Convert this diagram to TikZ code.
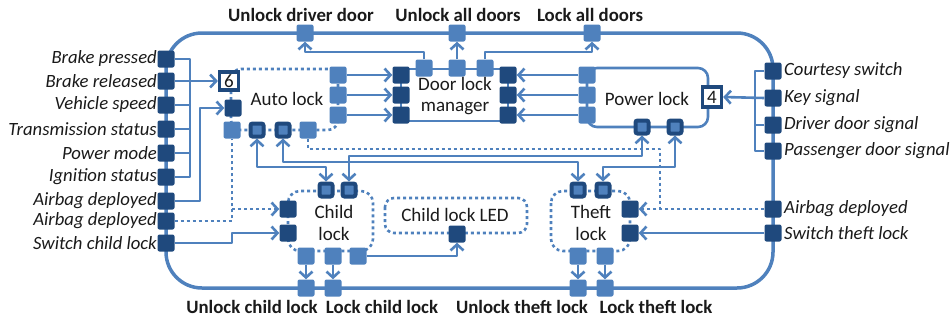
\documentclass[tikz,border=0pt]{standalone}
\usepackage{fontspec}
\setmainfont{Carlito}
\usetikzlibrary{arrows.meta}
\definecolor{dk}{HTML}{1F497D}
\definecolor{lt}{HTML}{4F81BD}
\definecolor{ink}{HTML}{1A1A1A}
\pgfdeclarelayer{back}
\pgfsetlayers{back,main}
\tikzset{
  port/.style={rectangle, minimum size=17pt, inner sep=0pt, rounded corners=2pt},
  dport/.style={port, fill=dk},
  lport/.style={port, fill=lt},
  iport/.style={port, fill=lt, draw=dk, line width=4pt, minimum size=13pt},
  numbox/.style={rectangle, draw=dk, fill=white, line width=3.2pt, minimum width=19pt,
    minimum height=18pt, inner sep=0pt, text=ink, font=\fontsize{19}{19}\selectfont},
  wire/.style={draw=lt, line width=2.6pt, line join=round},
  dots/.style={wire, dash pattern=on 3pt off 3pt},
  frame/.style={draw=lt, line width=3.5pt},
  arr/.style={-{Straight Barb[length=6pt,width=13pt]}},
  biarr/.style={{Straight Barb[length=6pt,width=13pt]}-{Straight Barb[length=6pt,width=13pt]}},
  sig/.style={inner sep=0pt, text=ink, font=\fontsize{18.7}{21}\selectfont\itshape},
  ttl/.style={inner sep=0pt, text=ink, font=\fontsize{18.8}{21}\selectfont\bfseries},
  cmp/.style={inner sep=0pt, text=ink, align=center, font=\fontsize{19}{21.5}\selectfont},
}
\begin{document}
\begin{tikzpicture}[x=1pt,y=-1pt]
\useasboundingbox (0,0) rectangle (952,322);

% ---- input ports on the left edge
\foreach \n/\y/\t in {L1/59/Brake pressed, L2/81/Brake released, L3/105/Vehicle speed,
    L4/129/Transmission status, L5/153/Power mode, L6/177/Ignition status,
    L7/201/Airbag deployed, L8/221/Airbag deployed, L9/243/Switch child lock}{
  \node[dport] (\n) at (166,\y) {};
  \node[sig, anchor=east] (\n-t) at (157,\y) {\t};
}
% ---- input ports on the right edge
\foreach \n/\y/\t in {R1/71/Courtesy switch, R2/98/Key signal, R3/125/Driver door signal,
    R4/151/Passenger door signal, R5/209/Airbag deployed, R6/233/Switch theft lock}{
  \node[dport] (\n) at (773,\y) {};
  \node[sig, anchor=west] (\n-t) at (784,\y) {\t};
}
% ---- output ports on the top edge
\foreach \n/\x/\lx/\t in {T1/305/301/Unlock driver door, T2/457/458/Unlock all doors,
    T3/592/590/Lock all doors}{
  \node[lport] (\n) at (\x,33) {};
  \node[ttl] (\n-t) at (\lx,15) {\t};
}
% ---- output ports on the bottom edge
\foreach \n/\x/\lx/\t in {B1/306/252/Unlock child lock, B2/333/382/Lock child lock,
    B3/578/522/Unlock theft lock, B4/605/656/Lock theft lock}{
  \node[lport] (\n) at (\x,288) {};
  \node[ttl] (\n-t) at (\lx,307) {\t};
}

% ---- Auto lock
\node[numbox] (n6) at (229,81) {6};
\node[dport] (Ain) at (233,108) {};
\node[lport] (Ab1) at (232,130) {};
\node[iport] (Ab2) at (257,130) {};
\node[iport] (Ab3) at (283,130) {};
\node[lport] (Ab4) at (308,130) {};
\node[lport] (Ar1) at (338,75) {};
\node[lport] (Ar2) at (338,95) {};
\node[lport] (Ar3) at (338,115) {};
\node[cmp] (auto) at (287,99) {Auto lock};

% ---- Door lock manager
\foreach \i/\y in {1/75,2/95,3/115}{
  \node[dport] (Dl\i) at (401,\y) {};
  \node[dport] (Dr\i) at (508,\y) {};
}
\node[lport] (Dt1) at (424,68) {};
\node[lport] (Dt2) at (457,68) {};
\node[lport] (Dt3) at (485,68) {};
\node[cmp] (dlm) at (455,96) {Door lock\\manager};

% ---- Power lock
\foreach \i/\y in {1/75,2/95,3/115}{
  \node[lport] (Pl\i) at (587,\y) {};
}
\node[numbox, minimum height=20pt] (n4) at (712,97) {4};
\node[iport] (Pb1) at (642,127) {};
\node[iport] (Pb2) at (675,127) {};
\node[cmp] (power) at (647,99) {Power lock};

% ---- Child lock
\node[iport] (Ct1) at (326,190) {};
\node[iport] (Ct2) at (349,190) {};
\node[dport] (Cl1) at (288,209) {};
\node[dport] (Cl2) at (288,233) {};
\node[lport] (Cb1) at (306,256) {};
\node[lport] (Cb2) at (333,256) {};
\node[lport] (Cb3) at (358,256) {};
\node[cmp] (child) at (334,223) {Child\\lock};

% ---- Child lock LED
\node[dport] (E) at (457,234) {};
\node[cmp] (led) at (455,215) {Child lock LED};

% ---- Theft lock
\node[iport] (Ht1) at (578,190) {};
\node[iport] (Ht2) at (603,190) {};
\node[dport] (Hr1) at (630,209) {};
\node[dport] (Hr2) at (630,233) {};
\node[lport] (Hb1) at (578,256) {};
\node[lport] (Hb2) at (605,256) {};
\node[cmp] (theft) at (591,223) {Theft\\lock};

\begin{pgfonlayer}{back}
  % outer system boundary
  \draw[frame, rounded corners=36pt] (166,33) rectangle (773,288);
  % component outlines
  \draw[dots, rounded corners=10pt] (231,69) rectangle (338,130);
  \draw[wire] (401,69) rectangle (508,121);
  \draw[wire, rounded corners=10pt] (587,68) rectangle (708,127);
  \draw[dots, rounded corners=12pt] (288,191) rectangle (373,251);
  \draw[dots, rounded corners=9pt] (385,198) rectangle (527,233);
  \draw[dots, rounded corners=12pt] (551,191) rectangle (630,251);

  % left input bus
  \coordinate (busL) at (190,0);
  \draw[wire] (L1.east) -- (L1.east -| busL) -- (L6.east -| busL) -- (L6.east);
  \foreach \n in {L3,L4,L5} \draw[wire] (\n.east) -- (\n.east -| busL);
  \draw[wire,arr] (L2.east) -- (n6.west);
  \coordinate (jA) at (200,0);
  \draw[wire,arr] (L7.east) -- (L7.east -| jA) |- (Ain.west);
  \draw[dots] (L8.east) -| (Ab1.south);
  \draw[dots,arr] (Cl1.west -| Ab1) -- (Cl1.west);
  \draw[wire,arr] (L9.east) -- (L9.east -| Ab1) |- (Cl2.west);

  % right input bus
  \coordinate (busR) at (755,0);
  \draw[wire] (R1.west) -- (R1.west -| busR) -- (R4.west -| busR) -- (R4.west);
  \draw[wire] (R3.west) -- (R3.west -| busR);
  \draw[wire,arr] (R2.west) -- (n4.east);
  \draw[dots,arr] (R5.west) -- (Hr1.east);
  \coordinate (dj) at (660,149);
  \draw[dots] (Ab4.south) |- (dj) -- (dj |- Hr1.east);
  \draw[wire,arr] (R6.west) -- (Hr2.east);

  % commands into the door lock manager
  \foreach \i in {1,2,3}{
    \draw[wire,arr] (Ar\i.east) -- (Dl\i.west);
    \draw[wire,arr] (Pl\i.west) -- (Dr\i.east);
  }
  % door lock manager outputs
  \coordinate (yT) at (0,52);
  \draw[wire,arr] (Dt1.north) -- (Dt1.north |- yT) -| (T1.south);
  \draw[wire,arr] (Dt2.north) -- (T2.south);
  \draw[wire,arr] (Dt3.north) -- (Dt3.north |- yT) -| (T3.south);

  % two-way links between the lock functions
  \coordinate (ya) at (0,167);
  \coordinate (yb) at (0,162);
  \coordinate (yc) at (0,156);
  \draw[wire,biarr] (Ab2.south) -- (Ab2.south |- ya) -| (Ct1.north);
  \draw[wire,biarr] (Ab3.south) -- (Ab3.south |- yb) -| (Ht1.north);
  \draw[wire,biarr] (Ct2.north) -- (Ct2.north |- yc) -| (Pb1.south);
  \draw[wire,biarr] (Pb2.south) -- (Pb2.south |- ya) -| (Ht2.north);

  % child / theft lock outputs
  \draw[wire,arr] (Cb1.south) -- (B1.north);
  \draw[wire,arr] (Cb2.south) -- (B2.north);
  \draw[wire,arr] (Hb1.south) -- (B3.north);
  \draw[wire,arr] (Hb2.south) -- (B4.north);
  \draw[wire,arr] (Cb3.east) -| (E.south);
\end{pgfonlayer}
\end{tikzpicture}
\end{document}
